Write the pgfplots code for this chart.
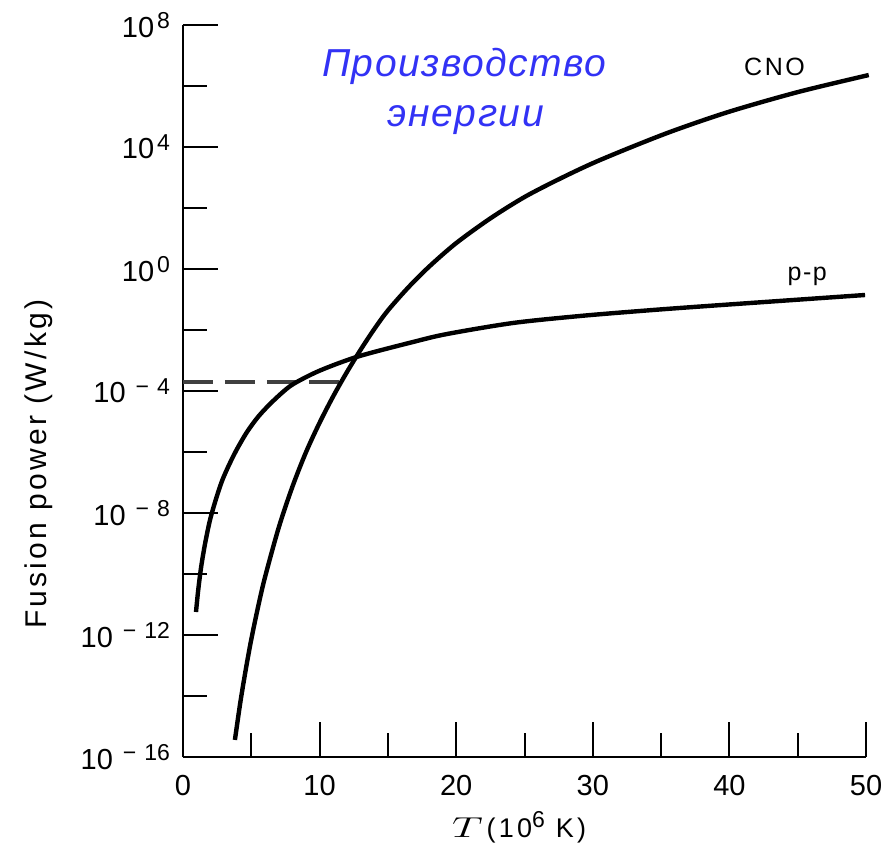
\documentclass[border=0pt]{standalone}
\usepackage{fontspec}
\setmainfont{Liberation Sans}
\usepackage{pgfplots}
\pgfplotsset{compat=1.18}
\definecolor{titleblue}{RGB}{50,50,245}
\newcommand{\tl}[1]{{\fontsize{14.5}{16}\selectfont #1}}
\newcommand{\ep}[1]{{\fontsize{14.5}{16}\selectfont 10\kern1.5pt\raisebox{4.2pt}{\fontsize{11.5}{12}\selectfont #1}}}
\newcommand{\en}[1]{{\fontsize{14.5}{16}\selectfont 10\raisebox{4.2pt}{\fontsize{11.5}{12}\selectfont\kern5pt −\kern4pt#1}}}
\begin{document}
\begin{tikzpicture}
\begin{axis}[
  at={(0,0)}, anchor=south west,
  scale only axis, width=341.5pt, height=366pt,
  xmin=0, xmax=50, ymode=log, log basis y=10, ymin=1e-16, ymax=1e8,
  axis x line*=bottom, axis y line*=left,
  axis line style={line width=1.2pt, black},
  tick align=inside,
  xtick={0,10,20,30,40,50}, minor xtick={5,15,25,35,45},
  xticklabels={\tl{0},\tl{10},\tl{20},\tl{30},\tl{40},\tl{50}},
  ytick={1e-16,1e-12,1e-8,1e-4,1,1e4,1e8},
  minor ytick={1e-14,1e-10,1e-6,1e-2,1e2,1e6},
  yticklabels={\en{16},\en{12},\en{8},\en{4},\ep{0},\ep{4},\ep{8}},
  major tick length=17.5pt, minor tick length=12pt,
  every tick/.style={line width=1pt, black},
  xticklabel style={yshift=-5.5pt},
  yticklabel style={xshift=-3pt},
  clip=false,
]
% dashed reference level
\addplot[line width=1.8pt, black!75, dash pattern=on 15pt off 6pt] coordinates {(0,1.95e-4) (11.6,1.95e-4)};
% p-p chain
\addplot[line width=2.2pt, black, smooth] coordinates {
(0.952,5.68e-12) (1.098,2.57e-11) (1.318,1.585e-10) (1.611,9.64e-10) (1.977,5.89e-9)
(2.416,2.88e-8) (2.855,1.12e-7) (3.367,3.75e-7) (3.953,1.25e-6) (4.685,4.53e-6)
(5.490,1.41e-5) (6.369,3.75e-5) (7.394,1.0e-4) (8.199,1.83e-4) (10.03,4.70e-4)
(12.81,1.35e-3) (16.84,4.05e-3) (19.33,7.40e-3) (24.16,1.70e-2) (29.06,2.88e-2)
(33.46,4.20e-2) (37.85,5.89e-2) (49.93,0.1406)};
% CNO cycle
\addplot[line width=2.2pt, black, smooth] coordinates {
(3.8,3.63e-16) (4.2,6.31e-15) (4.6,7.59e-14) (5.0,7.24e-13) (5.5,8.51e-12)
(6.0,7.76e-11) (7.0,3.24e-9) (8.0,7.08e-8) (9.0,9.77e-7) (10,9.12e-6)
(11,6.76e-5) (12,4.17e-4) (13,2.24e-3) (14,1.07e-2) (15,4.37e-2)
(16.5,0.251) (18,1.175) (20,7.08) (22.5,45.7) (25,229)
(27.5,871) (30,2951) (33,1.07e4) (36,3.55e4) (40,1.445e5)
(45,6.31e5) (50.2,2.29e6)};
\node[anchor=base, font=\fontsize{12.5}{14}\selectfont\addfontfeature{LetterSpace=10}] at (axis cs:43.3,2.29e6) {CNO};
\node[anchor=base, font=\fontsize{12.5}{14}\selectfont\addfontfeature{LetterSpace=6}] at (axis cs:45.7,0.436) {p-p};
\node[anchor=base, text=titleblue, font=\fontsize{19.5}{22}\selectfont\itshape\addfontfeature{LetterSpace=4}] at (axis cs:20.6,2.02e6) {Производство};
\node[anchor=base, text=titleblue, font=\fontsize{19.5}{22}\selectfont\itshape\addfontfeature{LetterSpace=4}] at (axis cs:20.7,4.53e4) {энергии};
\node[anchor=base, font=\fontsize{13.5}{15}\selectfont\addfontfeature{LetterSpace=12}] at ([yshift=-40pt]axis description cs:0.492,0) {\scalebox{1.5}[1]{\fontsize{14.4}{16}\selectfont$T$}\kern2pt(10\raisebox{5pt}{\fontsize{11.5}{12}\selectfont 6} K)};
\node[rotate=90, anchor=base, font=\fontsize{15}{17}\selectfont\addfontfeature{LetterSpace=11}] at ([xshift=-68pt]axis description cs:0,0.40) {Fusion power (W/kg)};
\end{axis}
\pgfresetboundingbox
\path (-91.5pt,-43pt) rectangle (355pt,378.5pt);
\end{tikzpicture}
\end{document}
